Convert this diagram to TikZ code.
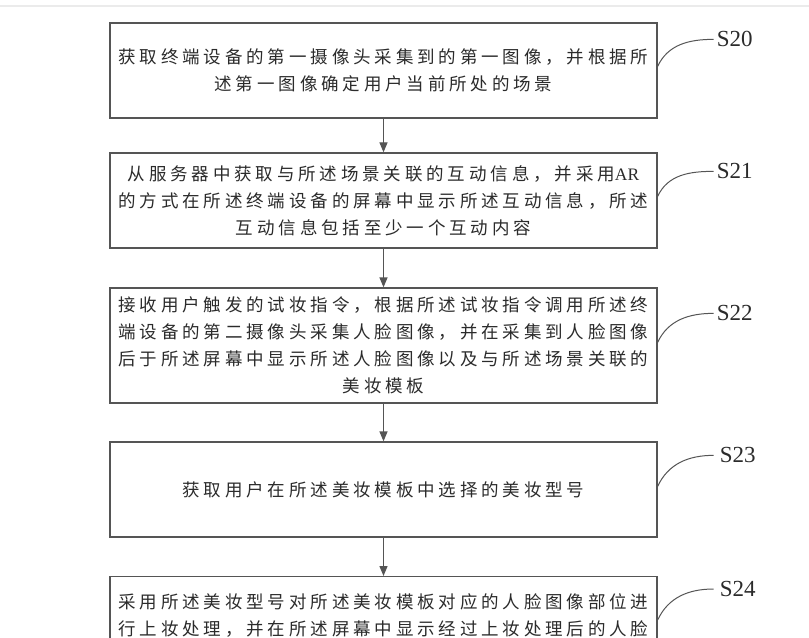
\documentclass[tikz,border=0pt]{standalone}
\usepackage{fontspec}
\setmainfont{Liberation Serif}
\newfontfamily\cjk[LetterSpace=22]{Noto Sans CJK SC}
\newfontfamily\labfont{Liberation Serif}
\usetikzlibrary{arrows.meta,calc}
\definecolor{boxline}{HTML}{555555}
\definecolor{txt}{HTML}{2B2B2B}
\tikzset{
  stepbox/.style={draw=boxline, line width=1.3bp, minimum width=547bp, align=center,
    inner sep=0pt, text=txt, font=\cjk\fontsize{17.5bp}{27bp}\selectfont},
  flowarrow/.style={draw=boxline, line width=1.3bp, -{Triangle[length=10bp,width=8bp]}},
  leader/.style={draw=boxline, line width=1bp},
  steplabel/.style={anchor=west, inner sep=0pt, text=txt, font=\labfont\fontsize{23bp}{23bp}\selectfont}
}
\begin{document}
\begin{tikzpicture}[x=1bp,y=-1bp]
\useasboundingbox (0,0) rectangle (809,638);
\fill[white] (0,0) rectangle (809,638);
\clip (0,0) rectangle (809,638);
\draw[black!8, line width=1.5bp] (0,6) -- (809,6);

\node[stepbox, minimum height=95bp] (b1) at (383.5,70.5)
  {获取终端设备的第一摄像头采集到的第一图像，并根据所\\述第一图像确定用户当前所处的场景};
\node[stepbox, minimum height=95bp] (b2) at (383.5,200.5)
  {从服务器中获取与所述场景关联的互动信息，并采用{\labfont AR}\\的方式在所述终端设备的屏幕中显示所述互动信息，所述\\互动信息包括至少一个互动内容};
\node[stepbox, minimum height=115bp] (b3) at (383.5,345.5)
  {接收用户触发的试妆指令，根据所述试妆指令调用所述终\\端设备的第二摄像头采集人脸图像，并在采集到人脸图像\\后于所述屏幕中显示所述人脸图像以及与所述场景关联的\\美妆模板};
\node[stepbox, minimum height=95bp] (b4) at (383.5,489.5)
  {获取用户在所述美妆模板中选择的美妆型号};
\node[stepbox, anchor=north, inner ysep=0pt] (b5) at (383.5,576)
  {\rule{0pt}{32bp}采用所述美妆型号对所述美妆模板对应的人脸图像部位进\\行上妆处理，并在所述屏幕中显示经过上妆处理后的人脸\\\rule{0pt}{60bp}};

\draw[flowarrow] (b1.south) -- (b2.north);
\draw[flowarrow] (b2.south) -- (b3.north);
\draw[flowarrow] (b3.south) -- (b4.north);
\draw[flowarrow] (b4.south) -- (b5.north);

\coordinate (c1) at ($(b1.north east)+(0,44)$);
\coordinate (e1) at ($(c1)+(56,-27)$);
\draw[leader] (c1) to[out=65,in=180] (e1);
\node[steplabel] (s1) at ($(e1)+(3,0)$) {S20};

\coordinate (c2) at ($(b2.north east)+(0,44)$);
\coordinate (e2) at ($(c2)+(56,-25)$);
\draw[leader] (c2) to[out=65,in=180] (e2);
\node[steplabel] (s2) at ($(e2)+(3,0)$) {S21};

\coordinate (c3) at ($(b3.north east)+(0,55)$);
\coordinate (e3) at ($(c3)+(56,-29)$);
\draw[leader] (c3) to[out=65,in=180] (e3);
\node[steplabel] (s3) at ($(e3)+(3,0)$) {S22};

\coordinate (c4) at ($(b4.north east)+(0,45)$);
\coordinate (e4) at ($(c4)+(56,-31)$);
\draw[leader] (c4) to[out=65,in=180] (e4);
\node[steplabel] (s4) at ($(e4)+(6,0)$) {S23};

\coordinate (c5) at ($(b5.north east)+(0,44)$);
\coordinate (e5) at ($(c5)+(56,-31)$);
\draw[leader] (c5) to[out=65,in=180] (e5);
\node[steplabel] (s5) at ($(e5)+(6,0)$) {S24};
\end{tikzpicture}
\end{document}
